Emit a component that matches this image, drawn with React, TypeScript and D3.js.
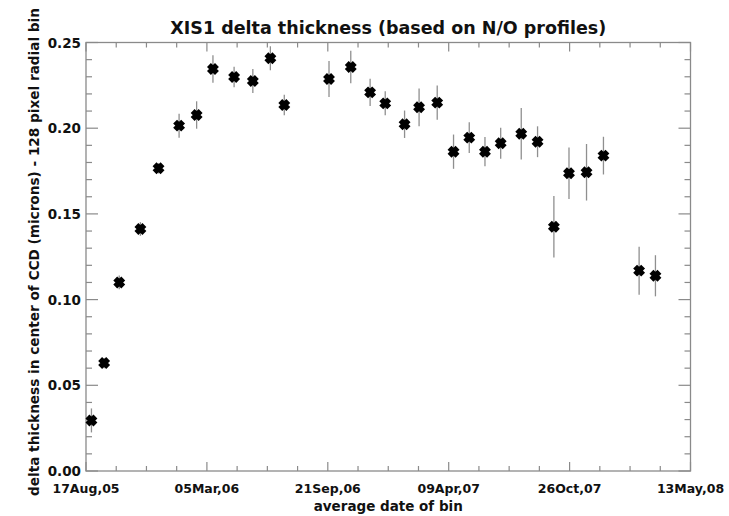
import React from "react";
import * as d3 from "d3";

const title = "XIS1 delta thickness (based on N/O profiles)";
const xTitle = "average date of bin";
const yTitle = "delta thickness in center of CCD (microns) - 128 pixel radial bin";

const dates = [
  "2005-08-26", "2005-09-16", "2005-10-11", "2005-11-15", "2005-12-15",
  "2006-01-18", "2006-02-16", "2006-03-15", "2006-04-19", "2006-05-20",
  "2006-06-18", "2006-07-11", "2006-09-23", "2006-10-29", "2006-11-30",
  "2006-12-25", "2007-01-26", "2007-02-19", "2007-03-21", "2007-04-17",
  "2007-05-13", "2007-06-08", "2007-07-04", "2007-08-07", "2007-09-03",
  "2007-09-30", "2007-10-25", "2007-11-23", "2007-12-21", "2008-02-18",
  "2008-03-16",
];
const values = [
  0.0295, 0.063, 0.110, 0.1412, 0.1766,
  0.2015, 0.2077, 0.2345, 0.2299, 0.2275,
  0.2408, 0.2135, 0.2287, 0.2357, 0.2209,
  0.2145, 0.2023, 0.2122, 0.2149, 0.1863,
  0.1945, 0.1863, 0.1912, 0.1968, 0.1921,
  0.1425, 0.1737, 0.1743, 0.184, 0.1169,
  0.1139,
];
const errors = [
  0.007, 0.003, 0.004, 0.004, 0.003,
  0.007, 0.008, 0.008, 0.006, 0.007,
  0.007, 0.006, 0.0105, 0.0095, 0.008,
  0.007, 0.008, 0.011, 0.010, 0.010,
  0.009, 0.0085, 0.009, 0.015, 0.009,
  0.018, 0.015, 0.0165, 0.011, 0.014,
  0.012,
];

const xTickDates = ["2005-08-17", "2006-03-05", "2006-09-21", "2007-04-09", "2007-10-26", "2008-05-13"];
const xTickLabels = ["17Aug,05", "05Mar,06", "21Sep,06", "09Apr,07", "26Oct,07", "13May,08"];
const yTicks = [0, 0.05, 0.1, 0.15, 0.2, 0.25];
const yTickLabels = ["0.00", "0.05", "0.10", "0.15", "0.20", "0.25"];

const W = 729;
const H = 516;
const L = 86, R = 690.5, T = 42.5, B = 471;
const axisColor = "#8a8a8a";
const font = "'DejaVu Sans', sans-serif";

const parse = (s: string) => new Date(s + "T00:00:00Z");

export default function App() {
  const x = d3.scaleUtc()
    .domain([parse(xTickDates[0]), parse(xTickDates[xTickDates.length - 1])])
    .range([L, R]);
  const y = d3.scaleLinear().domain([0, 0.25]).range([B, T]);

  const majorX = xTickDates.map(parse);
  const minorX: Date[] = [];
  for (let i = 0; i < majorX.length - 1; i++) {
    const a = majorX[i].getTime(), b = majorX[i + 1].getTime();
    for (let k = 1; k < 4; k++) minorX.push(new Date(a + ((b - a) * k) / 4));
  }
  const minorY = d3.range(0, 0.2501, 0.01).filter((v) => Math.abs(v / 0.05 - Math.round(v / 0.05)) > 1e-6);

  const pts = dates.map((d, i) => ({ d: parse(d), v: values[i], e: errors[i] }));
  const m = 4;

  return (
    <svg width={W} height={H} style={{ position: "absolute", left: 0, top: 0, background: "#fff" }}>
      <rect x={0} y={0} width={W} height={H} fill="#fff" />
      <text x={(L + R) / 2} y={34} textAnchor="middle" fontFamily={font} fontWeight="bold" fontSize={17.5} fill="#111">{title}</text>

      {/* frame */}
      <rect x={L} y={T} width={R - L} height={B - T} fill="none" stroke={axisColor} strokeWidth={1.3} />

      {/* x ticks */}
      {majorX.map((d, i) => (
        <g key={"mx" + i}>
          <line x1={x(d)} x2={x(d)} y1={B} y2={B - 9} stroke={axisColor} strokeWidth={1.2} />
          <line x1={x(d)} x2={x(d)} y1={T} y2={T + 9} stroke={axisColor} strokeWidth={1.2} />
          <text x={x(d)} y={493} textAnchor="middle" fontFamily={font} fontWeight="bold" fontSize={12.5} fill="#111">{xTickLabels[i]}</text>
        </g>
      ))}
      {minorX.map((d, i) => (
        <g key={"nx" + i}>
          <line x1={x(d)} x2={x(d)} y1={B} y2={B - 5} stroke={axisColor} strokeWidth={1.2} />
          <line x1={x(d)} x2={x(d)} y1={T} y2={T + 5} stroke={axisColor} strokeWidth={1.2} />
        </g>
      ))}

      {/* y ticks */}
      {yTicks.map((v, i) => (
        <g key={"my" + i}>
          <line x1={L} x2={L + 12} y1={y(v)} y2={y(v)} stroke={axisColor} strokeWidth={1.2} />
          <line x1={R} x2={R - 12} y1={y(v)} y2={y(v)} stroke={axisColor} strokeWidth={1.2} />
          <text x={81} y={y(v) + 5} textAnchor="end" fontFamily={font} fontWeight="bold" fontSize={13.5} fill="#111">{yTickLabels[i]}</text>
        </g>
      ))}
      {minorY.map((v, i) => (
        <g key={"ny" + i}>
          <line x1={L} x2={L + 6} y1={y(v)} y2={y(v)} stroke={axisColor} strokeWidth={1.2} />
          <line x1={R} x2={R - 6} y1={y(v)} y2={y(v)} stroke={axisColor} strokeWidth={1.2} />
        </g>
      ))}

      <text x={(L + R) / 2} y={511} textAnchor="middle" fontFamily={font} fontWeight="bold" fontSize={13.5} fill="#111">{xTitle}</text>
      <text transform={`translate(38.5,${252}) rotate(-90)`} textAnchor="middle" fontFamily={font} fontWeight="bold" fontSize={13.5} textLength={488} lengthAdjust="spacingAndGlyphs" fill="#111">{yTitle}</text>

      {/* error bars */}
      {pts.map((p, i) => (
        <line key={"e" + i} x1={x(p.d)} x2={x(p.d)} y1={y(p.v - p.e)} y2={y(p.v + p.e)} stroke="#8f8f8f" strokeWidth={1.3} />
      ))}
      {/* markers */}
      {pts.map((p, i) => {
        const cx = x(p.d), cy = y(p.v);
        return (
          <path key={"p" + i}
            d={`M${cx - m},${cy - m}L${cx + m},${cy + m}M${cx - m},${cy + m}L${cx + m},${cy - m}`}
            stroke="#000" strokeWidth={5.5} strokeLinecap="butt" fill="none" />
        );
      })}
    </svg>
  );
}
